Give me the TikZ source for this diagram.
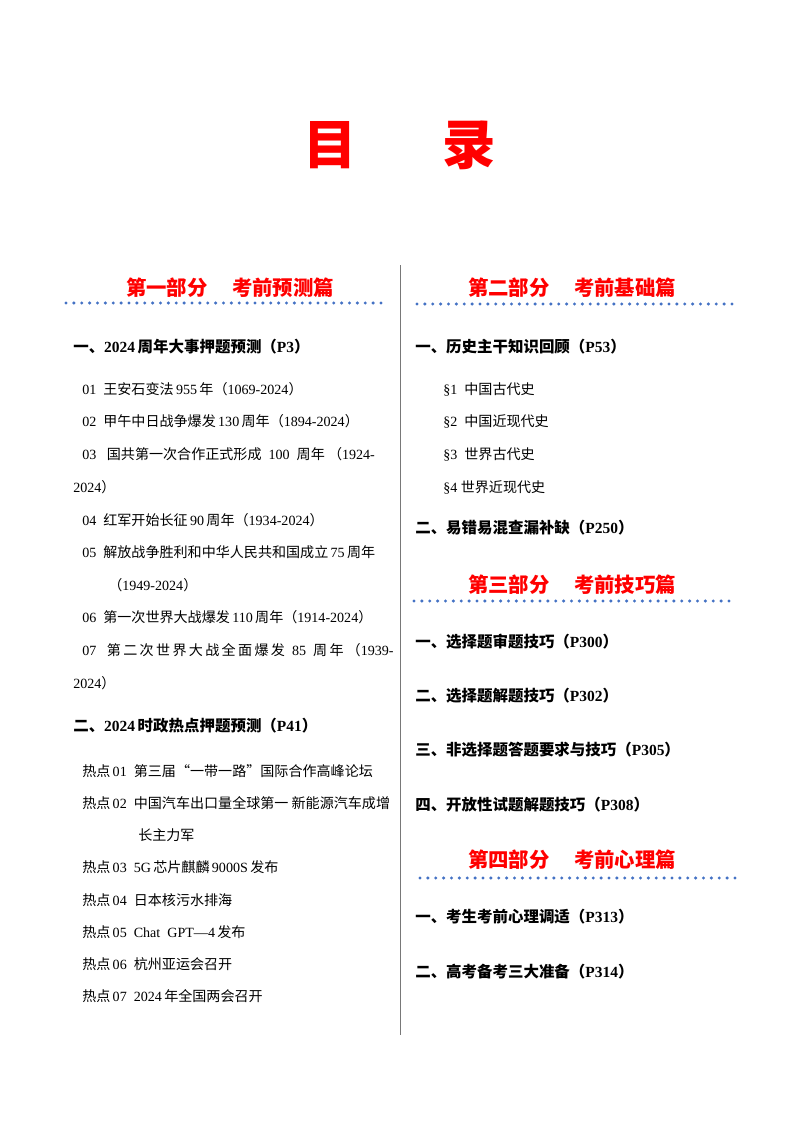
\documentclass[tikz,border=0pt]{standalone}
\usepackage{fontspec}
\setmainfont{Liberation Serif}
\newfontfamily\cjk{Noto Sans CJK SC}
\definecolor{partred}{RGB}{255,0,0}
\definecolor{dotblue}{RGB}{68,114,196}
\definecolor{rule}{RGB}{120,120,120}
\newcommand{\zh}[1]{{\cjk #1}}
\begin{document}
\begin{tikzpicture}[x=0.025cm,y=-0.025cm,
    part/.style={text=partred,font=\cjk\bfseries\fontsize{14.5}{16}\selectfont,inner sep=0pt},
    head/.style={anchor=west,font=\bfseries\fontsize{11}{13}\selectfont,inner sep=0pt},
    entry/.style={anchor=west,font=\fontsize{10}{12}\selectfont,inner sep=0pt},
    dots/.style={dotblue,line width=2.4pt,line cap=round,dash pattern=on 0pt off 5.6pt}]
    \useasboundingbox (0,0) rectangle (800,1132);
    % title
    \node[text=partred,font=\cjk\bfseries\fontsize{38}{40}\selectfont] (title) at (400,145) {目\hspace{1.6em}录};
    \draw[rule] (400,265) -- (400,1035);

    % left column
    \node[part] (p1) at (230,288) {第一部分\hspace{1.2em}考前预测篇};
    \draw[dots] (66,303) -- (384,303);
    \node[head] (h11) at (73,347) {\zh{一、}2024\,\zh{周年大事押题预测（}P3\zh{）}};
    \node[entry] (e1) at (82,389) {01\ \ \zh{王安石变法}\,955\,\zh{年（}1069-2024\zh{）}};
    \node[entry] (e2) at (82,421) {02\ \ \zh{甲午中日战争爆发}\,130\,\zh{周年（}1894-2024\zh{）}};
    \node[entry] (e3) at (82,454) {03\ \ \ \zh{国共第一次合作正式形成}\ \ 100\ \ \zh{周年\ （}1924-};
    \node[entry] (e3b) at (73,487) {2024\zh{）}};
    \node[entry] (e4) at (82,520) {04\ \ \zh{红军开始长征}\,90\,\zh{周年（}1934-2024\zh{）}};
    \node[entry] (e5) at (82,552) {05\ \ \zh{解放战争胜利和中华人民共和国成立}\,75\,\zh{周年}};
    \node[entry] (e5b) at (108,585) {\zh{（}1949-2024\zh{）}};
    \node[entry] (e6) at (82,617) {06\ \ \zh{第一次世界大战爆发}\,110\,\zh{周年（}1914-2024\zh{）}};
    \node[entry] (e7) at (82,650) {07\ \ \ \zh{第\,二\,次\,世\,界\,大\,战\,全\,面\,爆\,发}\ \ 85\ \ \zh{周\,年\ （}1939-};
    \node[entry] (e7b) at (73,683) {2024\zh{）}};
    \node[head] (h12) at (73,726) {\zh{二、}2024\,\zh{时政热点押题预测（}P41\zh{）}};
    \node[entry] (t1) at (82,771) {\zh{热点}\,01\ \ \zh{第三届“一带一路”国际合作高峰论坛}};
    \node[entry] (t2) at (82,803) {\zh{热点}\,02\ \ \zh{中国汽车出口量全球第一\ 新能源汽车成增}};
    \node[entry] (t2b) at (138,835) {\zh{长主力军}};
    \node[entry] (t3) at (82,867) {\zh{热点}\,03\ \ 5G\,\zh{芯片麒麟}\,9000S\,\zh{发布}};
    \node[entry] (t4) at (82,900) {\zh{热点}\,04\ \ \zh{日本核污水排海}};
    \node[entry] (t5) at (82,932) {\zh{热点}\,05\ \ Chat\ \ GPT—4\,\zh{发布}};
    \node[entry] (t6) at (82,964) {\zh{热点}\,06\ \ \zh{杭州亚运会召开}};
    \node[entry] (t7) at (82,996) {\zh{热点}\,07\ \ 2024\,\zh{年全国两会召开}};

    % right column
    \node[part] (p2) at (572,288) {第二部分\hspace{1.2em}考前基础篇};
    \draw[dots] (417,304) -- (735,304);
    \node[head] (h21) at (415,347) {\zh{一、历史主干知识回顾（}P53\zh{）}};
    \node[entry] (s1) at (443,389) {§1\ \ \zh{中国古代史}};
    \node[entry] (s2) at (443,421) {§2\ \ \zh{中国近现代史}};
    \node[entry] (s3) at (443,454) {§3\ \ \zh{世界古代史}};
    \node[entry] (s4) at (443,487) {§4\ \zh{世界近现代史}};
    \node[head] (h22) at (415,528) {\zh{二、易错易混查漏补缺（}P250\zh{）}};

    \node[part] (p3) at (572,585) {第三部分\hspace{1.2em}考前技巧篇};
    \draw[dots] (414,601) -- (732,601);
    \node[head] (h31) at (415,642) {\zh{一、选择题审题技巧（}P300\zh{）}};
    \node[head] (h32) at (415,696) {\zh{二、选择题解题技巧（}P302\zh{）}};
    \node[head] (h33) at (415,750) {\zh{三、非选择题答题要求与技巧（}P305\zh{）}};
    \node[head] (h34) at (415,805) {\zh{四、开放性试题解题技巧（}P308\zh{）}};

    \node[part] (p4) at (572,860) {第四部分\hspace{1.2em}考前心理篇};
    \draw[dots] (420,878) -- (738,878);
    \node[head] (h41) at (415,917) {\zh{一、考生考前心理调适（}P313\zh{）}};
    \node[head] (h42) at (415,972) {\zh{二、高考备考三大准备（}P314\zh{）}};
\end{tikzpicture}
\end{document}
